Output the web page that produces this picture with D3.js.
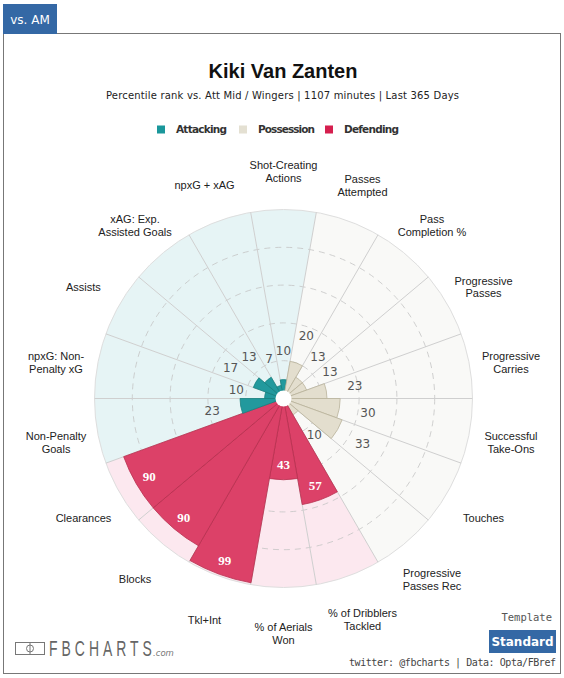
<!DOCTYPE html>
<html>
<head>
<meta charset="utf-8">
<script src="https://cdn.jsdelivr.net/npm/d3@7"></script>
<style>
body { margin: 0; background: #fff; }
</style>
</head>
<body>
<script>
// chart data, clockwise from the top
var categories = ["Shot-Creating Actions", "Passes Attempted", "Pass Completion %", "Progressive Passes",
    "Progressive Carries", "Successful Take-Ons", "Touches", "Progressive Passes Rec",
    "% of Dribblers Tackled", "% of Aerials Won", "Tkl+Int", "Blocks", "Clearances",
    "Non-Penalty Goals", "npxG: Non-Penalty xG", "Assists", "xAG: Exp. Assisted Goals", "npxG + xAG"];
var labelLines = [["Shot-Creating", "Actions"], ["Passes", "Attempted"], ["Pass", "Completion %"], ["Progressive", "Passes"],
    ["Progressive", "Carries"], ["Successful", "Take-Ons"], ["Touches"], ["Progressive", "Passes Rec"],
    ["% of Dribblers", "Tackled"], ["% of Aerials", "Won"], ["Tkl+Int"], ["Blocks"], ["Clearances"],
    ["Non-Penalty", "Goals"], ["npxG: Non-", "Penalty xG"], ["Assists"], ["xAG: Exp.", "Assisted Goals"], ["npxG + xAG"]];
var groups = ["Attacking", "Possession", "Possession", "Possession", "Possession", "Possession", "Possession", "Possession",
    "Defending", "Defending", "Defending", "Defending", "Defending",
    "Attacking", "Attacking", "Attacking", "Attacking", "Attacking"];
var values = [10, 20, 13, 13, 23, 30, 33, 10, 57, 43, 99, 90, 90, 23, 10, 17, 13, 7];
var legendNames = ["Attacking", "Possession", "Defending"];
var gridTicks = [20, 40, 60, 80];

window.onload = function () {

    var w = 564, h = 678;
    var cx = 283.5, cy = 398.5, R = 189;

    var svg = d3.select("body").append("svg")
        .attr("width", w)
        .attr("height", h);

    // frame + tab
    svg.append("rect")
        .attr("x", 3.5).attr("y", 33.5)
        .attr("width", 557).attr("height", 640)
        .attr("fill", "#fff")
        .attr("stroke", "#777");

    svg.append("rect")
        .attr("x", 3).attr("y", 4)
        .attr("width", 54).attr("height", 30)
        .attr("fill", "#3468a5");

    svg.append("text")
        .attr("x", 30).attr("y", 24)
        .attr("text-anchor", "middle")
        .style("font-family", "'DejaVu Sans'")
        .style("font-size", "12px")
        .style("fill", "#fff")
        .text("vs. AM");

    // titles
    svg.append("text")
        .attr("x", 283).attr("y", 78)
        .attr("text-anchor", "middle")
        .style("font-family", "'Liberation Sans', Arial")
        .style("font-weight", "bold")
        .style("font-size", "20px")
        .style("fill", "#111")
        .text("Kiki Van Zanten");

    svg.append("text")
        .attr("x", 106).attr("y", 99)
        .attr("textLength", 353)
        .attr("lengthAdjust", "spacing")
        .style("font-family", "'DejaVu Sans'")
        .style("font-size", "10px")
        .style("fill", "#222")
        .text("Percentile rank vs. Att Mid / Wingers | 1107 minutes | Last 365 Days");

    var groupColor = d3.scaleOrdinal()
        .domain(legendNames)
        .range(["#1a979b", "#e4e0d2", "#d51f4e"]);
    var barColor = d3.scaleOrdinal()
        .domain(legendNames)
        .range(["#22999d", "#e3dece", "#dc4168"]);
    var barStroke = d3.scaleOrdinal()
        .domain(legendNames)
        .range(["#17807f", "#b9b29b", "#b8304f"]);
    var bgColor = d3.scaleOrdinal()
        .domain(legendNames)
        .range(["#e6f4f5", "#f9f9f7", "#fce8ef"]);

    // legend
    var legX = d3.scaleOrdinal().domain(legendNames).range([157, 239, 325]);
    var legW = d3.scaleOrdinal().domain(legendNames).range([51, 57, 55]);
    var legend = svg.selectAll(".legend")
        .data(legendNames)
        .enter()
        .append("g")
        .attr("class", "legend");
    legend.append("rect")
        .attr("x", function (d) { return legX(d); })
        .attr("y", 125.5)
        .attr("width", 8).attr("height", 8)
        .attr("fill", function (d) { return groupColor(d); });
    legend.append("text")
        .attr("x", function (d) { return legX(d) + 19; })
        .attr("y", 133)
        .attr("textLength", function (d) { return legW(d); })
        .attr("lengthAdjust", "spacing")
        .style("font-family", "'DejaVu Sans'")
        .style("font-size", "10.5px")
        .style("font-weight", "bold")
        .style("fill", "#333")
        .text(function (d) { return d; });

    // scales
    var angle = d3.scaleBand()
        .domain(categories)
        .range([-Math.PI / 18, 2 * Math.PI - Math.PI / 18]);
    var bw = angle.bandwidth();
    var r = d3.scaleLinear()
        .domain([0, 100])
        .range([0, R]);

    var data = categories.map(function (c, i) {
        return { cat: c, lines: labelLines[i], group: groups[i], value: values[i] };
    });

    var chart = svg.append("g")
        .attr("transform", "translate(" + cx + "," + cy + ")");

    // slice backgrounds
    var bgArc = d3.arc()
        .innerRadius(0)
        .outerRadius(r(100))
        .startAngle(function (d) { return angle(d.cat); })
        .endAngle(function (d) { return angle(d.cat) + bw; });

    chart.selectAll(".bg")
        .data(data)
        .enter()
        .append("path")
        .attr("class", "bg")
        .attr("d", bgArc)
        .attr("fill", function (d) { return bgColor(d.group); });

    // dashed rings
    chart.selectAll(".ring")
        .data(gridTicks)
        .enter()
        .append("circle")
        .attr("class", "ring")
        .attr("r", function (d) { return r(d); })
        .attr("fill", "none")
        .attr("stroke", "#c4c4c4")
        .attr("stroke-width", 0.8)
        .attr("stroke-dasharray", "6,5");

    chart.append("circle")
        .attr("r", r(100))
        .attr("fill", "none")
        .attr("stroke", "#dedede")
        .attr("stroke-width", 1);

    // spokes between slices
    chart.selectAll(".spoke")
        .data(data)
        .enter()
        .append("line")
        .attr("class", "spoke")
        .attr("x1", 0).attr("y1", 0)
        .attr("x2", function (d) { return r(100) * Math.sin(angle(d.cat)); })
        .attr("y2", function (d) { return -r(100) * Math.cos(angle(d.cat)); })
        .attr("stroke", "#cfcfcf")
        .attr("stroke-width", 1);

    // bars
    var barArc = d3.arc()
        .innerRadius(0)
        .outerRadius(function (d) { return r(d.value); })
        .startAngle(function (d) { return angle(d.cat); })
        .endAngle(function (d) { return angle(d.cat) + bw; });

    chart.selectAll(".bar")
        .data(data)
        .enter()
        .append("path")
        .attr("class", "bar")
        .attr("d", barArc)
        .attr("fill", function (d) { return barColor(d.group); })
        .attr("stroke", function (d) { return barStroke(d.group); })
        .attr("stroke-width", 0.8);

    // hole in the middle
    chart.append("circle")
        .attr("r", 8)
        .attr("fill", "#fff");

    // value labels
    chart.selectAll(".val")
        .data(data)
        .enter()
        .append("text")
        .attr("class", "val")
        .attr("x", function (d) {
            var a = angle(d.cat) + bw / 2;
            var rr = d.value >= 40 ? r(d.value) - 15 : r(d.value) + 29;
            return rr * Math.sin(a);
        })
        .attr("y", function (d) {
            var a = angle(d.cat) + bw / 2;
            var rr = d.value >= 40 ? r(d.value) - 15 : r(d.value) + 29;
            return -rr * Math.cos(a);
        })
        .attr("text-anchor", "middle")
        .attr("dominant-baseline", "central")
        .style("font-family", function (d) { return d.value >= 40 ? "'Liberation Serif'" : "'DejaVu Sans'"; })
        .style("font-weight", function (d) { return d.value >= 40 ? "bold" : "normal"; })
        .style("font-size", function (d) { return d.value >= 40 ? "13px" : "12px"; })
        .style("fill", function (d) { return d.value >= 40 ? "#fff" : "#555"; })
        .text(function (d) { return d.value; });

    // category labels
    var labels = chart.selectAll(".cat")
        .data(data)
        .enter()
        .append("text")
        .attr("class", "cat")
        .attr("text-anchor", "middle")
        .attr("dominant-baseline", "central")
        .style("font-family", "'Liberation Sans', Arial")
        .style("font-size", "11px")
        .style("fill", "#222");

    labels.selectAll("tspan")
        .data(function (d) {
            var a = angle(d.cat) + bw / 2;
            var px = 231 * Math.sin(a), py = -231 * Math.cos(a) + 4;
            return d.lines.map(function (t, i) {
                return { t: t, x: px, y: py + (i - (d.lines.length - 1) / 2) * 12.5 };
            });
        })
        .enter()
        .append("tspan")
        .attr("x", function (d) { return d.x; })
        .attr("y", function (d) { return d.y; })
        .text(function (d) { return d.t; });

    // footer: logo
    var logo = svg.append("g");
    logo.append("rect")
        .attr("x", 15.5).attr("y", 642.5)
        .attr("width", 29).attr("height", 12)
        .attr("fill", "none")
        .attr("stroke", "#777");
    logo.append("line")
        .attr("x1", 30).attr("x2", 30)
        .attr("y1", 642.5).attr("y2", 654.5)
        .attr("stroke", "#777");
    logo.append("circle")
        .attr("cx", 30).attr("cy", 648.5).attr("r", 3.5)
        .attr("fill", "none")
        .attr("stroke", "#777");
    logo.append("g")
        .attr("transform", "translate(49,656) scale(0.62,1)")
        .append("text")
        .attr("textLength", 166)
        .attr("lengthAdjust", "spacing")
        .style("font-family", "'Liberation Sans', Arial")
        .style("font-size", "22.5px")
        .style("fill", "#666")
        .text("FBCHARTS");
    logo.append("text")
        .attr("x", 153).attr("y", 656)
        .style("font-family", "'DejaVu Sans'")
        .style("font-style", "italic")
        .style("font-size", "8.5px")
        .style("fill", "#777")
        .text(".com");

    // footer: right side
    svg.append("text")
        .attr("x", 552).attr("y", 621)
        .attr("text-anchor", "end")
        .style("font-family", "'DejaVu Sans Mono'")
        .style("font-size", "10.5px")
        .style("fill", "#555")
        .text("Template");

    svg.append("rect")
        .attr("x", 489).attr("y", 630)
        .attr("width", 67).attr("height", 23)
        .attr("fill", "#3468a5");
    svg.append("text")
        .attr("x", 522.5).attr("y", 646)
        .attr("text-anchor", "middle")
        .style("font-family", "'DejaVu Sans'")
        .style("font-weight", "bold")
        .style("font-size", "12px")
        .style("fill", "#fff")
        .text("Standard");

    svg.append("text")
        .attr("x", 349).attr("y", 666)
        .attr("textLength", 207)
        .attr("lengthAdjust", "spacing")
        .style("font-family", "'DejaVu Sans Mono'")
        .style("font-size", "10px")
        .style("fill", "#444")
        .text("twitter: @fbcharts | Data: Opta/FBref");
};
</script>
</body>
</html>
